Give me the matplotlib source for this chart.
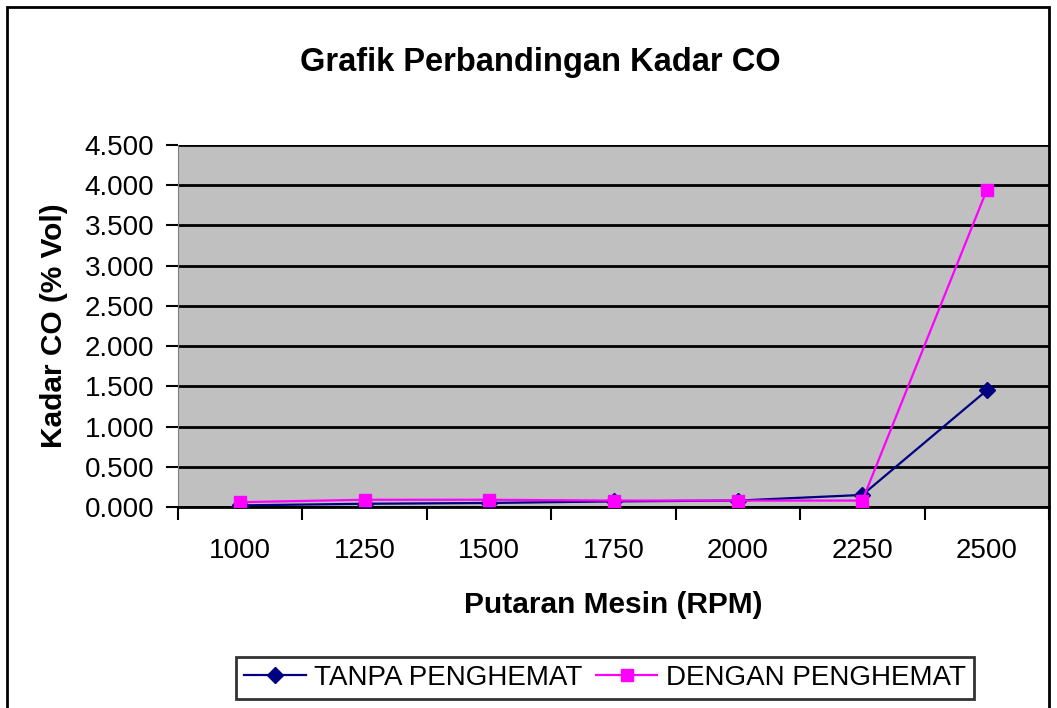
import numpy as np
import matplotlib.pyplot as plt
from matplotlib.patches import Rectangle

plt.rcParams['font.family'] = ['Liberation Sans', 'DejaVu Sans']

# data
rpm = ['1000', '1250', '1500', '1750', '2000', '2250', '2500']
tanpa = [0.02, 0.04, 0.05, 0.07, 0.08, 0.15, 1.45]
dengan = [0.06, 0.09, 0.09, 0.08, 0.08, 0.08, 3.94]
yticks = np.arange(0, 4.51, 0.5)

fig = plt.figure(figsize=(10.57, 7.08), dpi=100)
W, H = 1057, 708

# outer chart border
fig.patches.append(Rectangle((7 / W, -0.05), (1049 - 7) / W, 1.05 - 7 / H,
                             transform=fig.transFigure, fill=False,
                             edgecolor='black', linewidth=2))

ax = fig.add_axes([178 / W, (H - 507) / H, (1049 - 178) / W, 362 / H])
ax.set_facecolor('#C0C0C0')

x = np.arange(len(rpm))
ax.plot(x, tanpa, color='#000080', marker='D', markersize=8, linewidth=1.6,
        label='TANPA PENGHEMAT', zorder=3)
ax.plot(x, dengan, color='#FF00FF', marker='s', markersize=9, linewidth=1.6,
        label='DENGAN PENGHEMAT', zorder=3)

ax.set_xlim(-0.5, len(rpm) - 0.5)
ax.set_ylim(0, 4.5)
ax.set_yticks(yticks)
ax.set_yticklabels(['%.3f' % v for v in yticks], fontsize=20)
ax.yaxis.grid(True, color='black', linewidth=2)
ax.set_axisbelow(True)

ax.set_xticks(x)
ax.set_xticklabels(rpm, fontsize=20)
ax.set_xticks(np.arange(-0.5, len(rpm)), minor=True)
ax.tick_params(axis='x', which='major', length=0, pad=22)
ax.tick_params(axis='x', which='minor', length=9, width=1.5, direction='out')
ax.tick_params(axis='y', length=9, width=1.5, direction='out', pad=8)

for side in ['top', 'right']:
    ax.spines[side].set_visible(False)
ax.spines['left'].set_color('#808080')
ax.spines['bottom'].set_color('black')
ax.spines['bottom'].set_linewidth(2)

ax.set_xlabel('Putaran Mesin (RPM)', fontsize=21.5, fontweight='bold', labelpad=20)
ax.set_ylabel('Kadar CO (% Vol)', fontsize=21.5, fontweight='bold', labelpad=12)

fig.text(540 / W, 1 - 62 / H, 'Grafik Perbandingan Kadar CO', fontsize=23.5,
         fontweight='bold', ha='center', va='center')

leg = fig.legend(loc='center', bbox_to_anchor=(605 / W, 1 - 678 / H), ncol=2,
                 fontsize=20, frameon=True, fancybox=False, edgecolor='black',
                 handlelength=2.2, handletextpad=0.3, columnspacing=0.5,
                 borderpad=0.3)
leg.get_frame().set_linewidth(2)

fig.savefig('out.png', dpi=100)
